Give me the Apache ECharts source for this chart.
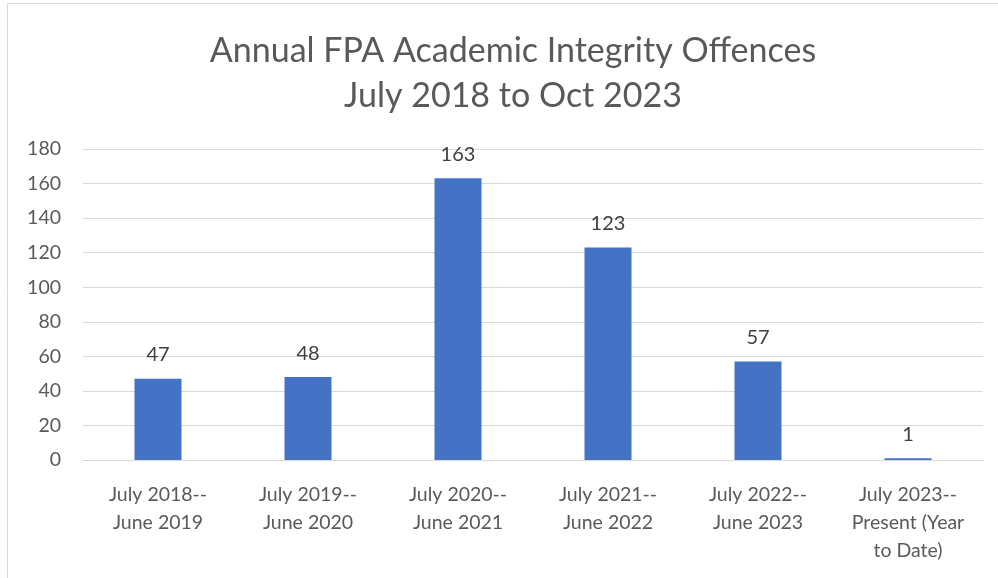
<!DOCTYPE html>
<html>
<head>
<meta charset="utf-8">
<script src="https://cdn.jsdelivr.net/npm/echarts@6/dist/echarts.min.js"></script>
<style>
  html, body { margin: 0; padding: 0; background: #fff; }
  #chart { width: 998px; height: 578px; }
</style>
</head>
<body>
<div id="chart"></div>
<script>
const categories = [
    'July 2018--\nJune 2019',
    'July 2019--\nJune 2020',
    'July 2020--\nJune 2021',
    'July 2021--\nJune 2022',
    'July 2022--\nJune 2023',
    'July 2023--\nPresent (Year\nto Date)'
];
const offences = [47, 48, 163, 123, 57, 1];
const yTicks = {min: 0, max: 180, interval: 20};

const chart = echarts.init(document.getElementById('chart'));
const font = 'Lato, "Open Sans", sans-serif';

chart.setOption({
    backgroundColor: '#fff',
    animation: false,
    title: {
        text: 'Annual FPA Academic Integrity Offences\nJuly 2018 to Oct 2023',
        left: 508,
        top: 24,
        textAlign: 'center',
        textStyle: {
            fontFamily: font,
            fontSize: 34,
            fontWeight: 'normal',
            color: '#595959',
            lineHeight: 45
        }
    },
    graphic: [{
        type: 'rect',
        shape: {x: 7.5, y: 3.5, width: 1000, height: 600},
        style: {fill: 'none', stroke: '#d9d9d9', lineWidth: 1},
        silent: true
    }],
    grid: {left: 83, right: 15, top: 149, bottom: 118, containLabel: false},
    xAxis: {
        type: 'category',
        data: categories,
        axisLine: {lineStyle: {color: '#d9d9d9', width: 1}},
        axisTick: {show: false},
        axisLabel: {
            interval: 0,
            margin: 21,
            fontFamily: font,
            fontSize: 19.5,
            color: '#595959',
            lineHeight: 28
        }
    },
    yAxis: {
        type: 'value',
        min: yTicks.min,
        max: yTicks.max,
        interval: yTicks.interval,
        axisLine: {show: false},
        axisTick: {show: false},
        splitLine: {lineStyle: {color: '#d9d9d9', width: 1}},
        axisLabel: {
            margin: 22,
            fontFamily: font,
            fontSize: 19.5,
            color: '#595959'
        }
    },
    series: [{
        type: 'bar',
        data: offences,
        barWidth: 47,
        itemStyle: {color: '#4472c4'},
        label: {
            show: true,
            position: 'top',
            distance: 14,
            fontFamily: font,
            fontSize: 20,
            color: '#404040'
        }
    }]
});
</script>
</body>
</html>
